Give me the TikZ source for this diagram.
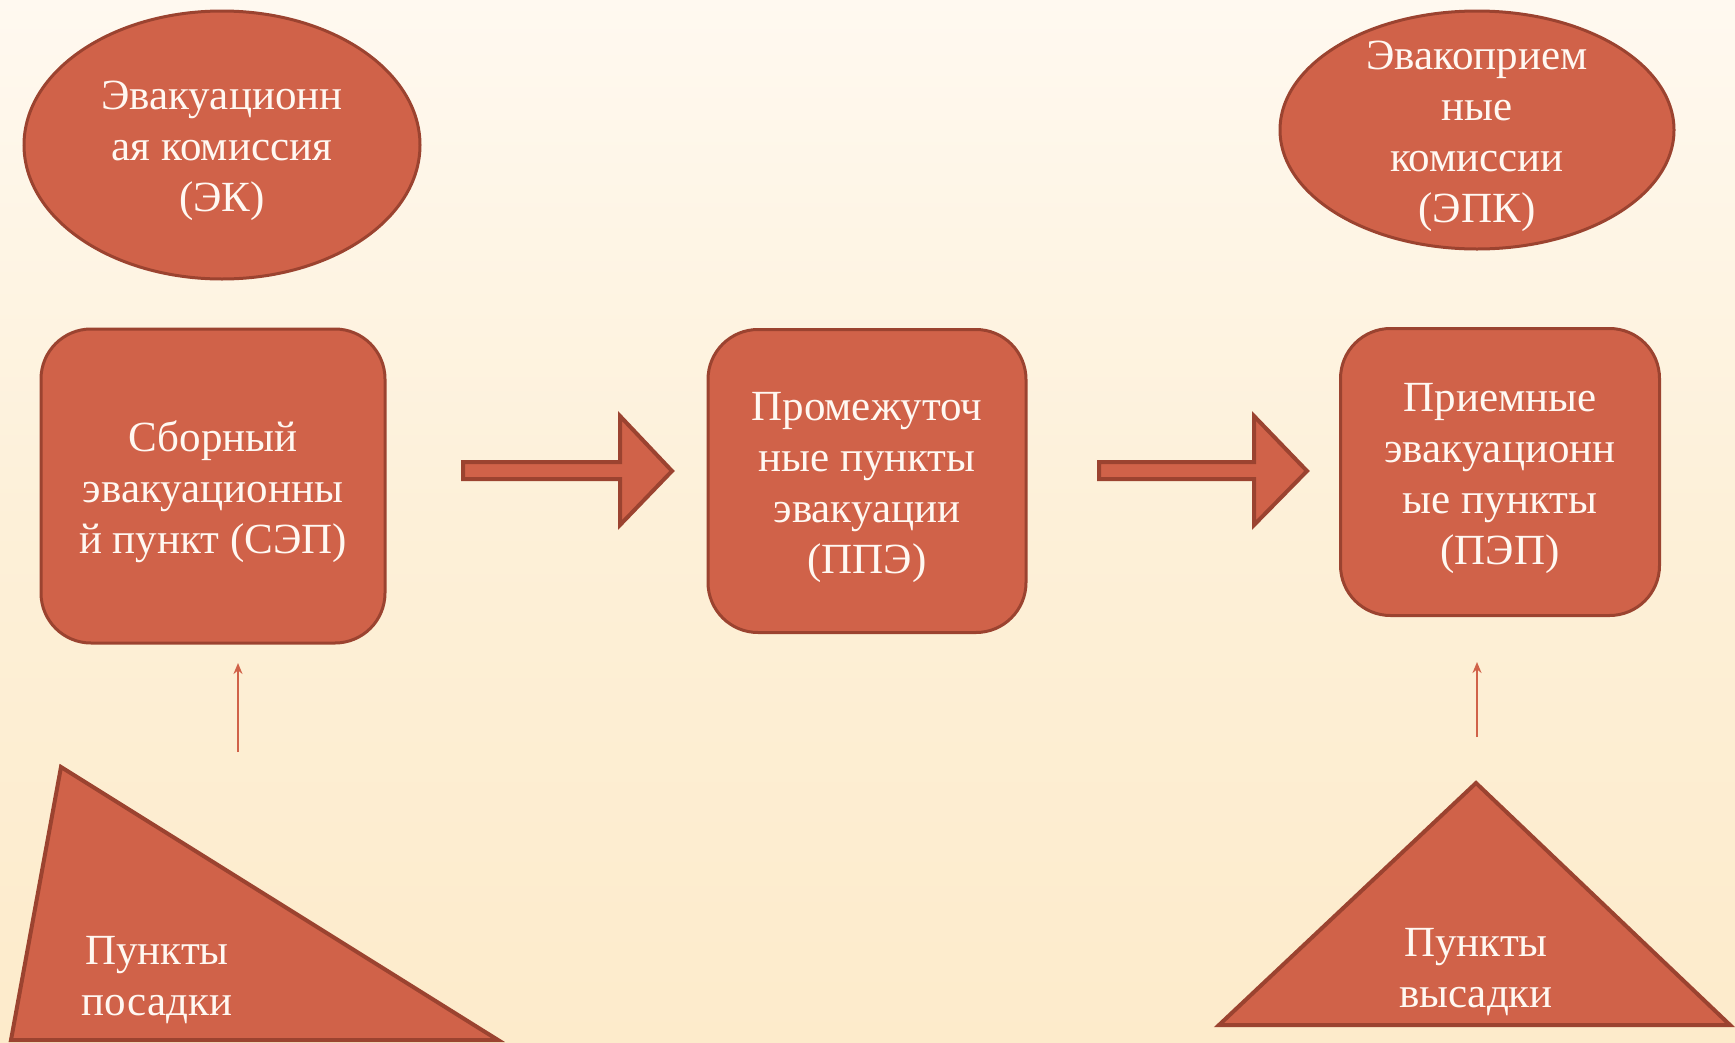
\documentclass[tikz,border=0pt]{standalone}
\usepackage{fontspec}
\setmainfont{Liberation Serif}
\usetikzlibrary{shapes.geometric,arrows.meta}
\definecolor{fillc}{HTML}{D06249}
\definecolor{edgec}{HTML}{9B4330}
\definecolor{txtc}{HTML}{FFF8F2}
\definecolor{bgtop}{HTML}{FFF9F0}
\definecolor{bgmid}{HTML}{FDF0D8}
\definecolor{bgbot}{HTML}{FDEBCB}
\begin{document}
\begin{tikzpicture}[x=1pt,y=-1pt,
  shapebase/.style={fill=fillc,draw=edgec,line width=3pt,inner sep=0pt},
  oval/.style={shapebase,ellipse},
  roundbox/.style={shapebase,rectangle,rounded corners=50pt},
  blockarrow/.style={fill=fillc,draw=edgec,line width=4pt,line join=miter},
  tri/.style={fill=fillc,draw=edgec,line width=4pt,line join=miter},
  lbl/.style={text=txtc,align=center,font=\fontsize{43}{51}\selectfont,inner sep=0pt,yshift=-6pt},
  thinarrow/.style={draw=fillc,line width=2pt,-{Stealth[length=11pt,width=9pt]}}
]
\useasboundingbox (0,0) rectangle (1735,1042);
\shade[top color=bgtop,bottom color=bgbot,middle color=bgmid] (0,0) rectangle (1735,1042);

% ellipses
\node[oval,minimum width=396pt,minimum height=268pt] (ek) at (222,145) {};
\node[lbl] (ekt) at (ek.center) {Эвакуационн\\ая комиссия\\(ЭК)};
\node[oval,minimum width=394pt,minimum height=238pt] (epk) at (1477,130) {};
\node[lbl] (epkt) at (epk.center) {Эвакоприем\\ные\\комиссии\\(ЭПК)};

% rounded boxes
\node[roundbox,minimum width=344pt,minimum height=314pt] (sep) at (213,486) {};
\node[lbl] (sept) at (sep.center) {Сборный\\эвакуационны\\й пункт (СЭП)};
\node[roundbox,minimum width=318pt,minimum height=303pt] (ppe) at (867,481) {};
\node[lbl] (ppet) at (ppe.center) {Промежуточ\\ные пункты\\эвакуации\\(ППЭ)};
\node[roundbox,minimum width=319pt,minimum height=287pt] (pep) at (1500,472) {};
\node[lbl] (pept) at (pep.center) {Приемные\\эвакуационн\\ые пункты\\(ПЭП)};

% block arrows
\draw[blockarrow] (463,462) -- (620,462) -- (620,416) -- (672,471) -- (620,525) -- (620,479) -- (463,479) -- cycle;
\draw[blockarrow] (1099,462) -- (1254,462) -- (1254,416) -- (1307,471) -- (1254,525) -- (1254,479) -- (1099,479) -- cycle;

% triangles
\coordinate (la) at (61,767);
\coordinate (lb) at (11,1040);
\coordinate (lc) at (498,1040);
\draw[tri] (la) -- (lb) -- (lc) -- cycle;
\node[lbl] (posadka) at (157,974) {Пункты\\посадки};

\coordinate (ra) at (1476,783);
\coordinate (rb) at (1219,1025);
\coordinate (rc) at (1730,1025);
\draw[tri] (ra) -- (rb) -- (rc) -- cycle;
\node[lbl] (vysadka) at (1476,966) {Пункты\\высадки};

% thin arrows
\coordinate (t1s) at (238,752);
\coordinate (t1e) at (238,663);
\draw[thinarrow] (t1s) -- (t1e);
\coordinate (t2s) at (1477,737);
\coordinate (t2e) at (1477,662);
\draw[thinarrow] (t2s) -- (t2e);
\end{tikzpicture}
\end{document}
